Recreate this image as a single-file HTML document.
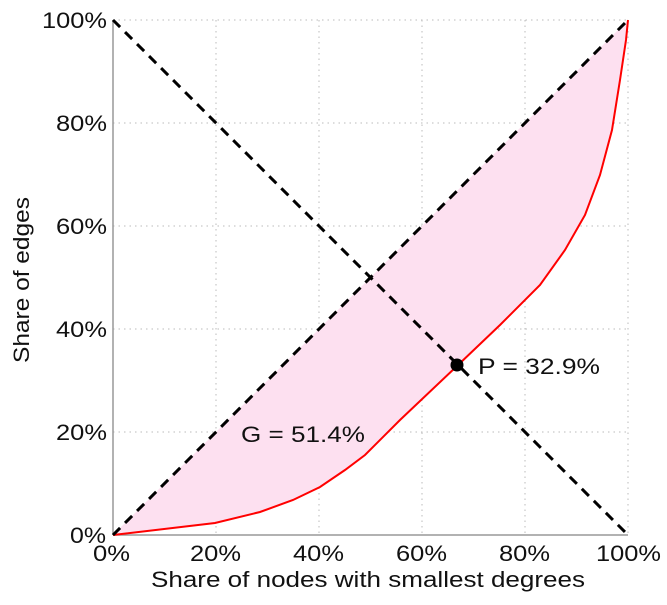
<!DOCTYPE html>
<html><head><meta charset="utf-8"><style>
body{margin:0;background:#fff}
svg text{font-family:"Liberation Sans",sans-serif;fill:#111}
</style></head><body>
<svg width="667" height="600" viewBox="0 0 667 600" xmlns="http://www.w3.org/2000/svg">
<g stroke="#bbb" stroke-width="1" stroke-dasharray="1.5,4">
<line x1="216" y1="20" x2="216" y2="535"/><line x1="319" y1="20" x2="319" y2="535"/>
<line x1="422" y1="20" x2="422" y2="535"/><line x1="525" y1="20" x2="525" y2="535"/>
<line x1="628" y1="20" x2="628" y2="535"/>
<line x1="113" y1="20" x2="628" y2="20"/><line x1="113" y1="123" x2="628" y2="123"/>
<line x1="113" y1="226" x2="628" y2="226"/><line x1="113" y1="329" x2="628" y2="329"/>
<line x1="113" y1="432" x2="628" y2="432"/>
</g>
<path d="M113,535 L215,523 L260,512 L293,500 L320,487 L345,470 L365,455 L400,420 L457,366 L500,325 L540,285 L565,250 L585,215 L600,175 L612,130 L620,80 L626,40 L628,20 Z" fill="#fde0f0"/>
<line x1="113" y1="20" x2="113" y2="535" stroke="#999" stroke-width="1.5"/>
<line x1="113" y1="535" x2="628" y2="535" stroke="#999" stroke-width="1.5"/>
<path d="M113,535 L215,523 L260,512 L293,500 L320,487 L345,470 L365,455 L400,420 L457,366 L500,325 L540,285 L565,250 L585,215 L600,175 L612,130 L620,80 L626,40 L628,20" fill="none" stroke="#f00" stroke-width="2"/>
<g stroke="#000" stroke-width="3" stroke-dasharray="10,7">
<line x1="113" y1="535" x2="628" y2="20"/>
<line x1="113" y1="20" x2="628" y2="535"/>
</g>
<circle cx="457" cy="365" r="6.5" fill="#000"/>
<g font-size="22">
<text x="70" y="543" textLength="36" lengthAdjust="spacingAndGlyphs">0%</text>
<text x="56" y="440" textLength="51" lengthAdjust="spacingAndGlyphs">20%</text>
<text x="56" y="337" textLength="51" lengthAdjust="spacingAndGlyphs">40%</text>
<text x="56" y="234" textLength="51" lengthAdjust="spacingAndGlyphs">60%</text>
<text x="56" y="131" textLength="51" lengthAdjust="spacingAndGlyphs">80%</text>
<text x="42" y="28" textLength="65" lengthAdjust="spacingAndGlyphs">100%</text>
<text x="93" y="561" textLength="37" lengthAdjust="spacingAndGlyphs">0%</text>
<text x="190" y="561" textLength="51" lengthAdjust="spacingAndGlyphs">20%</text>
<text x="293" y="561" textLength="51" lengthAdjust="spacingAndGlyphs">40%</text>
<text x="396" y="561" textLength="51" lengthAdjust="spacingAndGlyphs">60%</text>
<text x="499" y="561" textLength="51" lengthAdjust="spacingAndGlyphs">80%</text>
<text x="596" y="561" textLength="65" lengthAdjust="spacingAndGlyphs">100%</text>
<text x="151" y="587" textLength="434" lengthAdjust="spacingAndGlyphs">Share of nodes with smallest degrees</text>
<text x="0" y="0" textLength="166" lengthAdjust="spacingAndGlyphs" transform="translate(29 363) rotate(-90)">Share of edges</text>
<text x="478" y="374" textLength="122" lengthAdjust="spacingAndGlyphs">P = 32.9%</text>
<text x="241" y="442" textLength="124" lengthAdjust="spacingAndGlyphs">G = 51.4%</text>
</g>
</svg>
</body></html>
